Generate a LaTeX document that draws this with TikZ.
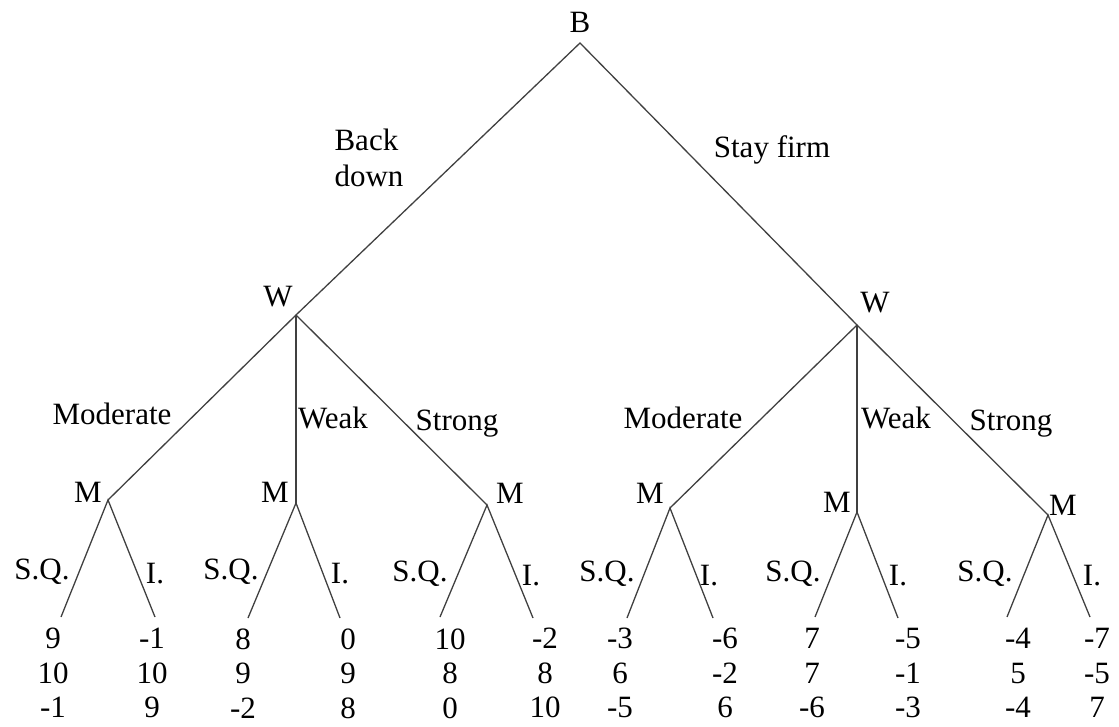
\documentclass[tikz,border=0pt]{standalone}
\usepackage{fontspec}
\setmainfont{Liberation Serif}

\tikzset{
  branch/.style={line width=0.65pt, black!75},
  lbl/.style={inner sep=0pt, font=\fontsize{15.5}{18}\selectfont},
  payoff/.style={lbl, align=center, anchor=north, font=\fontsize{15.5}{17.25}\selectfont}
}

\begin{document}
\begin{tikzpicture}[x=0.5pt, y=-0.5pt]
  \useasboundingbox (0,0) rectangle (1119,727);

  % decision points
  \coordinate (b) at (580,43);
  \coordinate (w1) at (296,315);
  \coordinate (w2) at (857,325);
  \coordinate (m1) at (108,500);
  \coordinate (m2) at (296,503);
  \coordinate (m3) at (487,505);
  \coordinate (m4) at (670,508);
  \coordinate (m5) at (857,512);
  \coordinate (m6) at (1048,515);

  % ends of the last moves
  \coordinate (e1a) at (61,617);   \coordinate (e1b) at (155,617);
  \coordinate (e2a) at (248,618);  \coordinate (e2b) at (340,618);
  \coordinate (e3a) at (440,617);  \coordinate (e3b) at (533,618);
  \coordinate (e4a) at (627,618);  \coordinate (e4b) at (713,618);
  \coordinate (e5a) at (815,617);  \coordinate (e5b) at (898,618);
  \coordinate (e6a) at (1007,617); \coordinate (e6b) at (1090,617);

  % players
  \node[lbl] (bname) at (580,22) {B};
  \node[lbl] (w1name) at (278,297) {W};
  \node[lbl] (w2name) at (875,303) {W};
  \node[lbl] (m1name) at (88,492) {M};
  \node[lbl] (m2name) at (275,492) {M};
  \node[lbl] (m3name) at (510,493) {M};
  \node[lbl] (m4name) at (650,493) {M};
  \node[lbl] (m5name) at (837,502) {M};
  \node[lbl] (m6name) at (1063,505) {M};

  % branches
  \draw[branch] (w1) -- (b) -- (w2);
  \draw[branch] (m1) -- (w1) -- (m3);
  \draw[branch] (w1) -- (m2);
  \draw[branch] (m4) -- (w2) -- (m6);
  \draw[branch] (w2) -- (m5);
  \draw[branch] (e1a) -- (m1) -- (e1b);
  \draw[branch] (e2a) -- (m2) -- (e2b);
  \draw[branch] (e3a) -- (m3) -- (e3b);
  \draw[branch] (e4a) -- (m4) -- (e4b);
  \draw[branch] (e5a) -- (m5) -- (e5b);
  \draw[branch] (e6a) -- (m6) -- (e6b);

  % moves
  \node[lbl, align=left] (back) at (369,158) {Back\\down};
  \node[lbl] (firm) at (772,150) {Stay firm};
  \node[lbl] (mod1) at (112,414) {Moderate};
  \node[lbl] (weak1) at (333,418) {Weak};
  \node[lbl] (str1) at (457,424) {Strong};
  \node[lbl] (mod2) at (683,418) {Moderate};
  \node[lbl] (weak2) at (896,418) {Weak};
  \node[lbl] (str2) at (1011,424) {Strong};

  \node[lbl] (sq1) at (42,572) {S.Q.};   \node[lbl] (i1) at (155,574) {I.};
  \node[lbl] (sq2) at (231,572) {S.Q.};  \node[lbl] (i2) at (340,574) {I.};
  \node[lbl] (sq3) at (420,574) {S.Q.};  \node[lbl] (i3) at (531,576) {I.};
  \node[lbl] (sq4) at (607,574) {S.Q.};  \node[lbl] (i4) at (709,576) {I.};
  \node[lbl] (sq5) at (793,574) {S.Q.};  \node[lbl] (i5) at (898,576) {I.};
  \node[lbl] (sq6) at (985,574) {S.Q.};  \node[lbl] (i6) at (1092,576) {I.};

  % payoffs
  \node[payoff] (p1a) at (53,628) {9\\10\\-1};
  \node[payoff] (p1b) at (152,628) {-1\\10\\9};
  \node[payoff] (p2a) at (243,628) {8\\9\\-2};
  \node[payoff] (p2b) at (348,628) {0\\9\\8};
  \node[payoff] (p3a) at (450,628) {10\\8\\0};
  \node[payoff] (p3b) at (545,628) {-2\\8\\10};
  \node[payoff] (p4a) at (620,628) {-3\\6\\-5};
  \node[payoff] (p4b) at (725,628) {-6\\-2\\6};
  \node[payoff] (p5a) at (812,628) {7\\7\\-6};
  \node[payoff] (p5b) at (908,628) {-5\\-1\\-3};
  \node[payoff] (p6a) at (1018,628) {-4\\5\\-4};
  \node[payoff] (p6b) at (1097,628) {-7\\-5\\7};
\end{tikzpicture}
\end{document}
